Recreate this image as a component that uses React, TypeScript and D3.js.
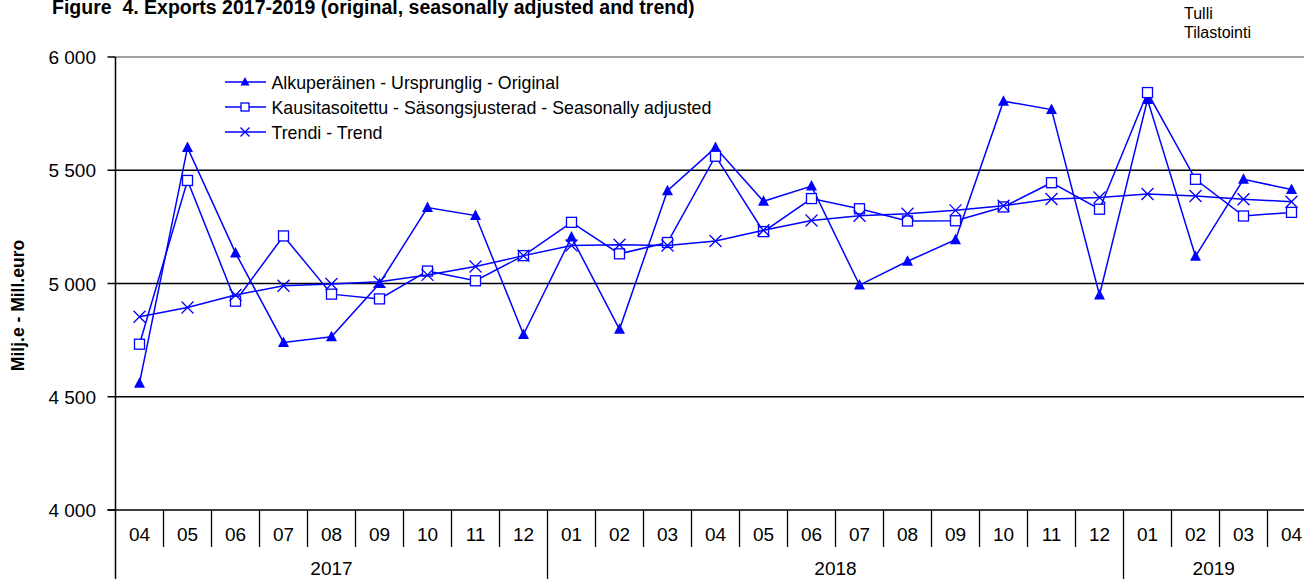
import { useRef, useEffect } from 'react';
import * as d3 from 'd3';

const categories = [
  '2017-04', '2017-05', '2017-06', '2017-07', '2017-08', '2017-09', '2017-10', '2017-11', '2017-12',
  '2018-01', '2018-02', '2018-03', '2018-04', '2018-05', '2018-06', '2018-07', '2018-08', '2018-09',
  '2018-10', '2018-11', '2018-12', '2019-01', '2019-02', '2019-03', '2019-04',
];
const years = ['2017', '2018', '2019'];

const original = [4560, 5600, 5135, 4740, 4765, 5000, 5335, 5300, 4775, 5205, 4798, 5410, 5600,
  5363, 5430, 4993, 5098, 5193, 5805, 5768, 4949, 5812, 5120, 5460, 5415];
const seasonal = [4732, 5455, 4922, 5210, 4953, 4932, 5055, 5012, 5123, 5270, 5131, 5181, 5562,
  5229, 5375, 5330, 5276, 5277, 5338, 5445, 5328, 5843, 5460, 5298, 5314];
const trend = [4853, 4894, 4949, 4990, 4998, 5008, 5038, 5075, 5123, 5168, 5171, 5168, 5188,
  5235, 5278, 5299, 5308, 5323, 5343, 5373, 5380, 5395, 5386, 5372, 5361];

const yTicks = [4000, 4500, 5000, 5500, 6000];

const seriesNames = [
  'Alkuperäinen - Ursprunglig - Original',
  'Kausitasoitettu - Säsongsjusterad - Seasonally adjusted',
  'Trendi - Trend',
];

const BLUE = '#0000ff';
const FONT = '"Liberation Sans", Arial, sans-serif';

type Marker = 'triangle' | 'square' | 'cross';

const drawMarker = (g: any, kind: Marker, cx: number, cy: number) => {
  if (kind === 'triangle') {
    g.append('path')
      .attr('d', `M${cx},${cy - 6}L${cx + 5.5},${cy + 4.5}L${cx - 5.5},${cy + 4.5}Z`)
      .attr('fill', BLUE);
  } else if (kind === 'square') {
    g.append('rect')
      .attr('x', cx - 5).attr('y', cy - 5)
      .attr('width', 10).attr('height', 10)
      .attr('fill', '#fff').attr('stroke', BLUE).attr('stroke-width', 1.3);
  } else {
    g.append('path')
      .attr('d', `M${cx - 6},${cy - 6}L${cx + 6},${cy + 6}M${cx + 6},${cy - 6}L${cx - 6},${cy + 6}`)
      .attr('stroke', BLUE).attr('stroke-width', 1.3).attr('fill', 'none');
  }
};

const ExportsChart = () => {
  const svgRef = useRef<SVGSVGElement>(null);

  useEffect(() => {
    document.body.style.margin = '0';
    const width = 1304;
    const height = 579;
    const plotLeft = 115.5;
    const plotRight = 1315.5;
    const plotTop = 57;
    const plotBottom = 510;

    const svg = d3.select(svgRef.current);
    svg.selectAll('*').remove();
    svg.attr('width', width).attr('height', height).style('font-family', FONT);

    const x = d3.scaleBand<string>().domain(categories).range([plotLeft, plotRight]).padding(0);
    const y = d3.scaleLinear().domain([4000, 6000]).range([plotBottom, plotTop]);
    const cx = (c: string) => (x(c) as number) + x.bandwidth() / 2;
    const fmt = (d: number) => d3.format(',')(d).replace(/,/g, ' ');

    // title + source
    svg.append('text').attr('x', 52).attr('y', 14)
      .style('font-size', '19.5px').style('font-weight', '700').style('white-space', 'pre')
      .text('Figure  4. Exports 2017-2019 (original, seasonally adjusted and trend)');
    svg.append('text').attr('x', 1184).attr('y', 19).style('font-size', '16px').text('Tulli');
    svg.append('text').attr('x', 1184).attr('y', 38).style('font-size', '16px').text('Tilastointi');

    // gridlines
    svg.append('g').selectAll('line')
      .data(yTicks.filter(t => t > 4000))
      .enter().append('line')
      .attr('x1', plotLeft).attr('x2', width)
      .attr('y1', d => y(d)).attr('y2', d => y(d))
      .attr('stroke', d => (d === 6000 ? '#808080' : '#000'))
      .attr('stroke-width', 1.5);

    // y axis
    svg.append('line').attr('x1', plotLeft).attr('x2', plotLeft)
      .attr('y1', plotTop).attr('y2', height).attr('stroke', '#000').attr('stroke-width', 1.5);
    const yt = svg.append('g');
    yTicks.forEach(t => {
      yt.append('line').attr('x1', plotLeft - 8).attr('x2', plotLeft)
        .attr('y1', y(t)).attr('y2', y(t)).attr('stroke', '#000').attr('stroke-width', 1.5);
      yt.append('text').attr('x', 96).attr('y', y(t) + 7)
        .attr('text-anchor', 'end').style('font-size', '19px').text(fmt(t));
    });
    svg.append('text')
      .attr('transform', `translate(24,${(plotTop + plotBottom) / 2 + 22}) rotate(-90)`)
      .attr('text-anchor', 'middle').style('font-size', '17.5px').style('font-weight', '700')
      .text('Milj.e - Mill.euro');

    // x axis
    svg.append('line').attr('x1', plotLeft - 8).attr('x2', width)
      .attr('y1', plotBottom).attr('y2', plotBottom).attr('stroke', '#000').attr('stroke-width', 1.5);
    categories.forEach((c, i) => {
      const m = c.split('-')[1];
      svg.append('text').attr('x', cx(c)).attr('y', 541)
        .attr('text-anchor', 'middle').style('font-size', '19px').text(m);
      if (i > 0) {
        const full = m === '01';
        svg.append('line').attr('x1', x(c) as number).attr('x2', x(c) as number)
          .attr('y1', plotBottom).attr('y2', full ? height : 547)
          .attr('stroke', '#000').attr('stroke-width', 1.3);
      }
    });
    years.forEach(yr => {
      const cs = categories.filter(c => c.startsWith(yr));
      const x0 = x(cs[0]) as number;
      const x1 = Math.min((x(cs[cs.length - 1]) as number) + x.bandwidth(), width);
      svg.append('text').attr('x', (x0 + x1) / 2).attr('y', 575)
        .attr('text-anchor', 'middle').style('font-size', '19px').text(yr);
    });

    // series
    const series: { values: number[]; marker: Marker }[] = [
      { values: original, marker: 'triangle' },
      { values: seasonal, marker: 'square' },
      { values: trend, marker: 'cross' },
    ];
    const line = d3.line<number>().x((_, i) => cx(categories[i])).y(d => y(d));
    series.forEach(s => {
      const g = svg.append('g');
      g.append('path').attr('d', line(s.values)).attr('fill', 'none')
        .attr('stroke', BLUE).attr('stroke-width', 1.5);
      s.values.forEach((v, i) => drawMarker(g, s.marker, cx(categories[i]), y(v)));
    });

    // legend
    const legend = svg.append('g');
    seriesNames.forEach((name, i) => {
      const ly = 82 + i * 25;
      legend.append('line').attr('x1', 225).attr('x2', 266).attr('y1', ly).attr('y2', ly)
        .attr('stroke', BLUE).attr('stroke-width', 1.5);
      const lg = legend.append('g');
      if (series[i].marker === 'cross') {
        lg.append('path')
          .attr('d', `M${240.5},${ly - 4.5}L${249.5},${ly + 4.5}M${249.5},${ly - 4.5}L${240.5},${ly + 4.5}`)
          .attr('stroke', BLUE).attr('stroke-width', 1.3);
      } else if (series[i].marker === 'square') {
        lg.append('rect').attr('x', 241).attr('y', ly - 4).attr('width', 8).attr('height', 8)
          .attr('fill', '#fff').attr('stroke', BLUE).attr('stroke-width', 1.3);
      } else {
        lg.append('path').attr('d', `M245,${ly - 5}L249.5,${ly + 3.5}L240.5,${ly + 3.5}Z`).attr('fill', BLUE);
      }
      legend.append('text').attr('x', 271.5).attr('y', ly + 7).style('font-size', '17.8px').text(name);
    });
  }, []);

  return <svg ref={svgRef} style={{ display: 'block' }}></svg>;
};

export default function App() {
  return <ExportsChart />;
}
